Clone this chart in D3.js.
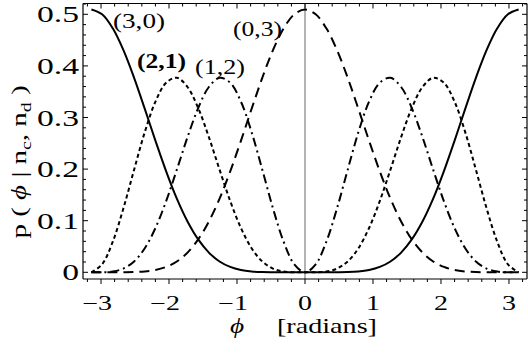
<!DOCTYPE html>
<html><head><meta charset="utf-8">
<script src="https://cdn.jsdelivr.net/npm/d3@7"></script>
<style>html,body{margin:0;padding:0;background:#fff;}svg{display:block;}</style>
</head><body>
<svg id="chart" width="528" height="354"></svg>
<script>
const phi = [-3.1416,-2.9845,-2.8274,-2.6704,-2.5133,-2.3562,-2.1991,-2.0420,-1.8850,-1.7279,-1.5708,-1.4137,-1.2566,-1.0996,-0.9425,-0.7854,-0.6283,-0.4712,-0.3142,-0.1571,0,0.1571,0.3142,0.4712,0.6283,0.7854,0.9425,1.0996,1.2566,1.4137,1.5708,1.7279,1.8850,2.0420,2.1991,2.3562,2.5133,2.6704,2.8274,2.9845,3.1416];
const p30 = [0.5093,0.5000,0.4728,0.4305,0.3769,0.3167,0.2548,0.1957,0.1428,0.0985,0.0637,0.0382,0.0210,0.0104,0.0045,0.0016,0.0004,0.0001,0,0,0,0,0,0.0001,0.0004,0.0016,0.0045,0.0104,0.0210,0.0382,0.0637,0.0985,0.1428,0.1957,0.2548,0.3167,0.3769,0.4305,0.4728,0.5000,0.5093];
const p21 = [0,0.0155,0.0593,0.1241,0.1989,0.2717,0.3308,0.3674,0.3769,0.3591,0.3183,0.2619,0.1989,0.1380,0.0859,0.0466,0.0210,0.0072,0.0015,0.0001,0,0.0001,0.0015,0.0072,0.0210,0.0466,0.0859,0.1380,0.1989,0.2619,0.3183,0.3591,0.3769,0.3674,0.3308,0.2717,0.1989,0.1241,0.0593,0.0155,0];
const p12 = [0,0.0001,0.0015,0.0072,0.0210,0.0466,0.0859,0.1380,0.1989,0.2619,0.3183,0.3591,0.3769,0.3674,0.3308,0.2717,0.1989,0.1241,0.0593,0.0155,0,0.0155,0.0593,0.1241,0.1989,0.2717,0.3308,0.3674,0.3769,0.3591,0.3183,0.2619,0.1989,0.1380,0.0859,0.0466,0.0210,0.0072,0.0015,0.0001,0];
const p03 = [0,0,0,0.0001,0.0004,0.0016,0.0045,0.0104,0.0210,0.0382,0.0637,0.0985,0.1428,0.1957,0.2548,0.3167,0.3769,0.4305,0.4728,0.5000,0.5093,0.5000,0.4728,0.4305,0.3769,0.3167,0.2548,0.1957,0.1428,0.0985,0.0637,0.0382,0.0210,0.0104,0.0045,0.0016,0.0004,0.0001,0,0,0];
const seriesNames = ["(3,0)","(2,1)","(1,2)","(0,3)"];
const xTicks = [-3,-2,-1,0,1,2,3];
const xTickLabels = ["\u22123","\u22122","\u22121","0","1","2","3"];
const yTicks = [0,0.1,0.2,0.3,0.4,0.5];
const yTickLabels = ["0","0.1","0.2","0.3","0.4","0.5"];

const svg = d3.select("#chart");
const FONT = "'Liberation Serif','Times New Roman',serif";
const L = 83, R = 527, T = 3.5, B = 279;
const x = d3.scaleLinear().domain([-3.265, 3.265]).range([L, R]);
const y = d3.scaleLinear().domain([0, 0.5]).range([272.3, 14.3]);

const styles = {
  "(3,0)": {data: p30, dash: null},
  "(2,1)": {data: p21, dash: "4,3"},
  "(1,2)": {data: p12, dash: "9,4,2,4"},
  "(0,3)": {data: p03, dash: "10,6"}
};

svg.append("line").attr("x1", x(0)).attr("x2", x(0)).attr("y1", T).attr("y2", B)
  .attr("stroke", "#808080").attr("stroke-width", 1.2);

const line = d3.line().x((d,i)=>x(phi[i])).y(d=>y(d)).curve(d3.curveCatmullRom);
seriesNames.forEach(n => {
  const s = styles[n];
  svg.append("path").attr("d", line(s.data)).attr("fill","none")
    .attr("stroke","#000").attr("stroke-width",2)
    .attr("stroke-dasharray", s.dash);
});

const fr = svg.append("g").attr("stroke","#000").attr("stroke-width",1.2);
fr.append("line").attr("x1",L).attr("x2",R).attr("y1",B).attr("y2",B);
fr.append("line").attr("x1",L).attr("x2",R).attr("y1",T).attr("y2",T);
fr.append("line").attr("x1",L).attr("x2",L).attr("y1",T).attr("y2",B);
fr.append("line").attr("x1",R).attr("x2",R).attr("y1",T).attr("y2",B);

const xMinor = d3.range(-16,17).map(v=>v/5).filter(v=>Math.abs(v-Math.round(v))>1e-6);
const tk = svg.append("g").attr("stroke","#000").attr("stroke-width",1);
xTicks.forEach(v=>{
  tk.append("line").attr("x1",x(v)).attr("x2",x(v)).attr("y1",B).attr("y2",B+5);
  tk.append("line").attr("x1",x(v)).attr("x2",x(v)).attr("y1",T).attr("y2",T+5);
});
xMinor.forEach(v=>{
  tk.append("line").attr("x1",x(v)).attr("x2",x(v)).attr("y1",B).attr("y2",B+3);
  tk.append("line").attr("x1",x(v)).attr("x2",x(v)).attr("y1",T).attr("y2",T+3);
});
const yMinor = d3.range(0,27).map(v=>v/50).filter(v=>Math.abs(v*10-Math.round(v*10))>1e-6);
yTicks.forEach(v=>{
  tk.append("line").attr("x1",L).attr("x2",L+5).attr("y1",y(v)).attr("y2",y(v));
  tk.append("line").attr("x1",R).attr("x2",R-5).attr("y1",y(v)).attr("y2",y(v));
});
yMinor.forEach(v=>{
  tk.append("line").attr("x1",L).attr("x2",L+3).attr("y1",y(v)).attr("y2",y(v));
  tk.append("line").attr("x1",R).attr("x2",R-3).attr("y1",y(v)).attr("y2",y(v));
});

function stext(px, py, str, size, anchor, sx) {
  return svg.append("text")
    .attr("transform", `translate(${px},${py}) scale(${sx},1)`)
    .attr("font-family", FONT).attr("font-size", size)
    .attr("text-anchor", anchor).attr("fill","#000").text(str);
}
xTicks.forEach((v,i)=> stext(x(v) - (v<0?4:0), 310, xTickLabels[i], 20, "middle", 1.4));
yTicks.forEach((v,i)=> stext(79, y(v)+8, yTickLabels[i], 24, "end", 1.4));

const labPos = {"(3,0)":[113,27.5,52], "(2,1)":[137,68,49], "(1,2)":[195,73.5,50], "(0,3)":[233,35.5,49]};
seriesNames.forEach(n=>{
  const p = labPos[n];
  svg.append("text").attr("x",p[0]).attr("y",p[1]).attr("font-family",FONT)
    .attr("font-size",21).attr("textLength",p[2]).attr("lengthAdjust","spacingAndGlyphs")
    .attr("font-weight", n==="(2,1)" ? "bold" : "normal").text(n);
});

svg.append("text").attr("font-family",FONT).attr("font-style","italic")
  .attr("font-size",21).attr("text-anchor","middle")
  .attr("transform","translate(237,333) scale(1.3,1)").text("\u03d5");
svg.append("text").attr("x",277).attr("y",333).attr("font-family",FONT)
  .attr("font-size",21).attr("textLength",100).attr("lengthAdjust","spacingAndGlyphs").text("[radians]");

const yl = svg.append("text")
  .attr("transform","translate(26,162) rotate(-90) scale(1.32,1)")
  .attr("font-family",FONT).attr("font-size",22).attr("text-anchor","middle").attr("xml:space","preserve");
yl.append("tspan").text("p ( ");
yl.append("tspan").attr("font-style","italic").text("\u03d5");
yl.append("tspan").text(" | n");
yl.append("tspan").attr("font-size",15).attr("dy",5).text("c");
yl.append("tspan").attr("dy",-5).text(", n");
yl.append("tspan").attr("font-size",15).attr("dy",5).text("d");
yl.append("tspan").attr("dy",-5).text(" )");
</script>
</body></html>
